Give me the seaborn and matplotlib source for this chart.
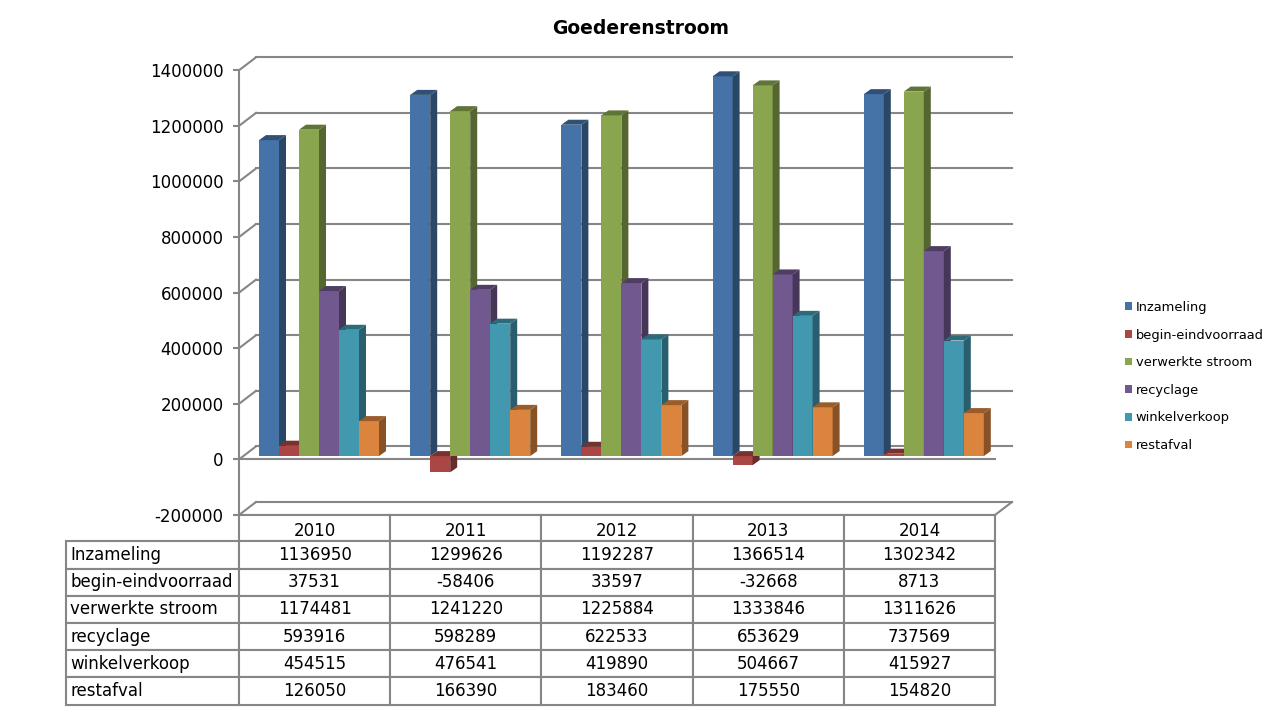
import matplotlib
matplotlib.use('Agg')
import matplotlib.pyplot as plt
import seaborn as sns
import pandas as pd
from matplotlib.colors import to_rgb
from matplotlib.patches import Polygon
from matplotlib.table import Table

years = ['2010', '2011', '2012', '2013', '2014']
series_names = ['Inzameling', 'begin-eindvoorraad', 'verwerkte stroom',
                'recyclage', 'winkelverkoop', 'restafval']
inzameling = [1136950, 1299626, 1192287, 1366514, 1302342]
voorraad = [37531, -58406, 33597, -32668, 8713]
verwerkt = [1174481, 1241220, 1225884, 1333846, 1311626]
recyclage = [593916, 598289, 622533, 653629, 737569]
winkel = [454515, 476541, 419890, 504667, 415927]
restafval = [126050, 166390, 183460, 175550, 154820]
all_series = [inzameling, voorraad, verwerkt, recyclage, winkel, restafval]
colors = ['#4572A7', '#AA4643', '#89A54E', '#71588F', '#4198AF', '#DB843D']
y_ticks = [-200000, 0, 200000, 400000, 600000, 800000, 1000000, 1200000, 1400000]

W, H = 1283, 710
GRID = '#868686'
TICK_SIZE = 12
sns.set_theme(style='white')
plt.rcParams['font.family'] = ['DejaVu Sans']
plt.rcParams['text.color'] = 'black'


def axes_px(fig, x0, x1, y_top, y_bottom, **kw):
    # axes placed with pixel coordinates of the picture (origin top left)
    return fig.add_axes([x0 / W, 1 - y_bottom / H, (x1 - x0) / W, (y_bottom - y_top) / H], **kw)


def shade(color, f):
    return tuple(c * f for c in to_rgb(color))


df = pd.DataFrame({
    'jaar': years * len(series_names),
    'reeks': [s for s in series_names for _ in years],
    'waarde': [v for vals in all_series for v in vals],
})

fig = plt.figure(figsize=(W / 100, H / 100), dpi=100)
fig.patch.set_facecolor('white')

# frame: front y axis, side and back walls
ax = axes_px(fig, 239, 995, 70.3, 515)
ax.set_xlim(0, 1)
ax.set_ylim(-200000, 1400000)
px_y = 1600000 / 444.7
back_dx = 17 / 756
back_dy = 13 * px_y
trans = ax.get_yaxis_transform()
line_kw = dict(color=GRID, lw=1.5, transform=trans, clip_on=False, solid_capstyle='projecting')
for t in y_ticks:
    ax.plot([0, back_dx], [t, t + back_dy], **line_kw)
    ax.plot([back_dx, 1 + back_dx], [t + back_dy, t + back_dy], **line_kw)
ax.plot([0, 1], [0, 0], **line_kw)
ax.plot([0, 1], [-200000, -200000], **line_kw)
ax.plot([1, 1 + back_dx], [-200000, -200000 + back_dy], **line_kw)
for side in ['top', 'right', 'bottom']:
    ax.spines[side].set_visible(False)
ax.spines['left'].set_color(GRID)
ax.spines['left'].set_linewidth(1.5)
ax.set_xticks([])
ax.set_yticks(y_ticks)
ax.set_yticklabels([str(t) for t in y_ticks], fontsize=TICK_SIZE, color='black')
ax.tick_params(axis='y', left=True, length=4, width=1.5, color=GRID, pad=7)

# bars sit a little behind the front plane
ax_bars = axes_px(fig, 243.4, 999.4, 67, 511.7, facecolor='none')
sns.barplot(data=df, x='jaar', y='waarde', hue='reeks', order=years, hue_order=series_names,
            palette=colors, width=120 / 151.2, saturation=1, ax=ax_bars, legend=False)
ax_bars.set_xlim(-0.5, 4.5)
ax_bars.set_ylim(-200000, 1400000)
ax_bars.axis('off')

depth_x = 7 / 151.2
depth_y = 5 * px_y
bars = sorted(ax_bars.patches, key=lambda b: b.get_x())
for i, bar in enumerate(bars):
    x0, w = bar.get_x(), bar.get_width()
    x1 = x0 + w
    top = max(bar.get_y(), bar.get_y() + bar.get_height())
    low = min(bar.get_y(), bar.get_y() + bar.get_height())
    col = bar.get_facecolor()[:3]
    z = 3 + i
    bar.set_edgecolor('none')
    bar.set_zorder(z)
    ax_bars.add_patch(Polygon([(x1, low), (x1 + depth_x, low + depth_y), (x1 + depth_x, top + depth_y), (x1, top)],
                              facecolor=shade(col, 0.62), edgecolor='none', zorder=z, clip_on=False))
    ax_bars.add_patch(Polygon([(x0, top), (x0 + depth_x, top + depth_y), (x1 + depth_x, top + depth_y), (x1, top)],
                              facecolor=shade(col, 0.70), edgecolor='none', zorder=z, clip_on=False))

# data table below the chart
ax_tab = axes_px(fig, 66, 995, 515, 704.5)
ax_tab.axis('off')
label_w = (239 - 66) / 929
col_w = (995 - 239) / 929 / len(years)
row_h = 27.2 / 189.5
head_h = 1 - 6 * row_h
table = Table(ax_tab, bbox=[0, 0, 1, 1])
table.auto_set_font_size(False)
for c, year in enumerate(years):
    cell = table.add_cell(0, c + 1, col_w, head_h, text='', loc='center')
    cell.set_edgecolor(GRID)
    cell.set_linewidth(1.5)
    # header text sits low in its cell
    ax_tab.text(label_w + (c + 0.5) * col_w, 1 - 16 / 189.5, year, ha='center', va='center',
                fontsize=TICK_SIZE, transform=ax_tab.transAxes)
for r, name in enumerate(series_names):
    cell = table.add_cell(r + 1, 0, label_w, row_h, text=name, loc='left')
    cell.set_edgecolor(GRID)
    cell.set_linewidth(1.5)
    cell.PAD = 0.025
    for c, val in enumerate(all_series[r]):
        cell = table.add_cell(r + 1, c + 1, col_w, row_h, text=str(val), loc='center')
        cell.set_edgecolor(GRID)
        cell.set_linewidth(1.5)
table.set_fontsize(TICK_SIZE)
ax_tab.add_table(table)

# legend
handles = [plt.Rectangle((0, 0), 1, 1, facecolor=c, edgecolor='none') for c in colors]
fig.legend(handles, series_names, loc='center left', bbox_to_anchor=(1113 / W, 1 - 376.5 / H), frameon=False,
           fontsize=9.4, labelspacing=1.12, handlelength=0.54, handleheight=0.54, handletextpad=0.3,
           labelcolor='black')

fig.text(641 / W, 1 - 28.5 / H, 'Goederenstroom', ha='center', va='center', fontsize=13.5,
         fontweight='bold', color='black')

fig.savefig('out.png', dpi=100)
